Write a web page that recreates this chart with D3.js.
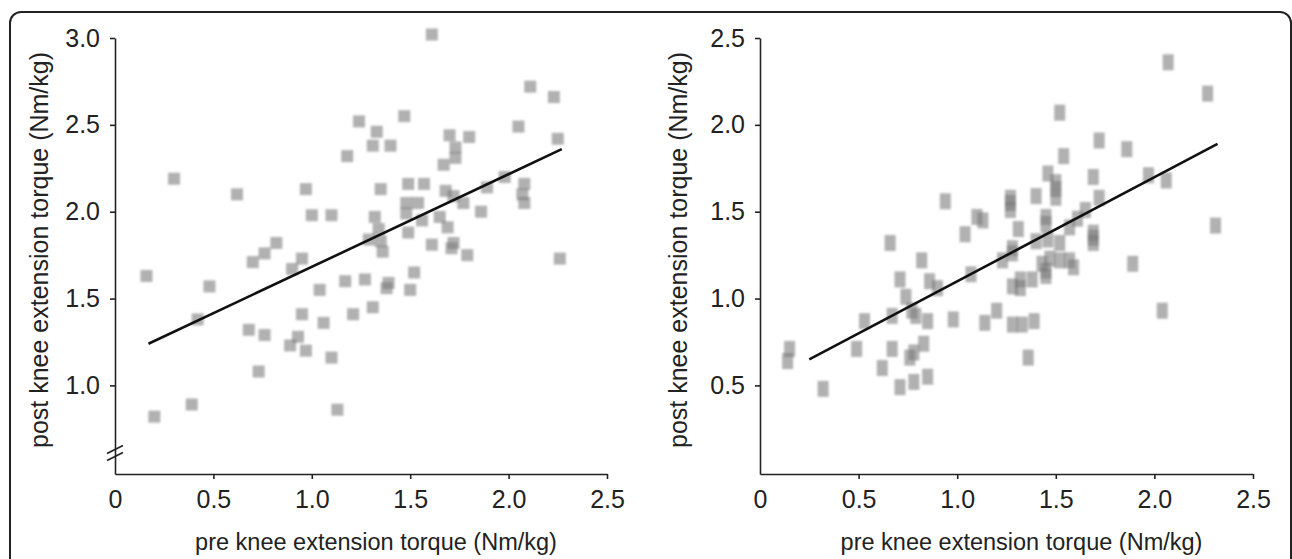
<!DOCTYPE html>
<html lang="en">
<head>
    <meta charset="UTF-8">
    <title>pre vs post knee extension torque</title>
    <script src="https://d3js.org/d3.v7.min.js"></script>
    <style>
        body { margin: 0; background: #fff; font-family: "Liberation Sans", Arial, sans-serif; }
        .axis path, .axis line { stroke: #222; stroke-width: 1.6px; }
        .axis text { font-size: 25px; fill: #222; font-family: "Liberation Sans", Arial, sans-serif; }
        .title { fill: #222; text-anchor: middle; }
        .fit { stroke: #111; stroke-width: 2.6px; fill: none; }
    </style>
</head>
<body>
<script>
    // left panel: values
    const leftPre = [0.16,0.20,0.30,0.39,0.42,0.48,0.62,0.97,1.00,1.10,1.24,1.18,0.82,0.76,0.70,0.95,0.90,1.04,1.17,
        0.95,1.06,1.21,0.68,0.76,0.93,0.89,0.97,1.10,0.73,1.13,1.61,2.11,2.23,2.05,2.25,1.47,1.33,1.31,1.40,1.70,
        1.80,1.73,1.73,1.67,1.35,1.49,1.57,1.68,1.72,1.77,1.89,1.98,2.08,2.07,2.08,1.48,1.54,1.48,1.86,1.32,1.34,
        1.56,1.65,1.69,1.49,1.29,1.35,1.36,1.61,1.72,1.71,1.79,1.52,1.27,1.39,1.38,1.50,1.31,2.26];
    const leftPost = [1.63,0.82,2.19,0.89,1.38,1.57,2.10,2.13,1.98,1.98,2.52,2.32,1.82,1.76,1.71,1.73,1.67,1.55,1.60,
        1.41,1.36,1.41,1.32,1.29,1.28,1.23,1.20,1.16,1.08,0.86,3.02,2.72,2.66,2.49,2.42,2.55,2.46,2.38,2.38,2.44,
        2.43,2.37,2.31,2.27,2.13,2.16,2.16,2.12,2.09,2.05,2.14,2.20,2.16,2.10,2.05,2.05,2.05,1.99,2.00,1.97,1.90,
        1.95,1.97,1.91,1.88,1.84,1.83,1.77,1.81,1.82,1.79,1.75,1.65,1.61,1.59,1.56,1.55,1.45,1.73];
    const leftFitX = [0.17, 2.27];
    const leftFitY = [1.24, 2.36];

    // right panel
    const rightPre = [0.94,1.10,1.13,1.04,0.66,0.82,0.71,0.86,0.90,1.07,0.74,0.77,0.79,0.53,0.67,0.85,0.98,1.14,
        0.15,0.14,0.49,0.67,0.83,0.76,0.78,0.62,0.32,0.71,0.78,0.85,2.07,2.27,1.52,1.72,1.86,1.54,1.46,1.50,1.50,
        1.50,1.69,1.72,1.97,2.06,1.40,1.27,1.27,1.27,1.45,1.45,1.65,1.61,1.57,1.31,1.69,1.69,1.69,2.31,1.40,1.46,
        1.52,1.28,1.28,1.23,1.47,1.52,1.57,1.59,1.43,1.45,1.45,1.89,1.32,1.28,1.32,1.38,1.20,1.28,1.33,1.39,2.04,1.36];
    const rightPost = [1.56,1.47,1.45,1.37,1.32,1.22,1.11,1.10,1.06,1.14,1.01,0.93,0.90,0.87,0.90,0.87,0.88,0.86,
        0.71,0.64,0.71,0.71,0.74,0.66,0.69,0.60,0.48,0.49,0.52,0.55,2.36,2.18,2.07,1.91,1.86,1.82,1.72,1.67,1.63,
        1.58,1.70,1.58,1.71,1.68,1.59,1.58,1.55,1.51,1.47,1.43,1.51,1.46,1.41,1.40,1.38,1.35,1.32,1.42,1.33,1.34,
        1.32,1.29,1.26,1.22,1.23,1.22,1.22,1.18,1.20,1.16,1.13,1.20,1.11,1.07,1.06,1.11,0.93,0.85,0.85,0.87,0.93,0.66];
    const rightFitX = [0.25, 2.32];
    const rightFitY = [0.65, 1.89];

    const xTicks = [0, 0.5, 1.0, 1.5, 2.0, 2.5];
    const leftYTicks = [1.0, 1.5, 2.0, 2.5, 3.0];
    const rightYTicks = [0.5, 1.0, 1.5, 2.0, 2.5];
    const xTitle = "pre knee extension torque (Nm/kg)";
    const yTitle = "post knee extension torque (Nm/kg)";

    const W = 1292, H = 559;
    const svg = d3.select("body").append("svg")
        .attr("width", W)
        .attr("height", H);

    const defs = svg.append("defs");
    defs.append("filter").attr("id", "soft")
        .attr("x", "-30%").attr("y", "-30%").attr("width", "160%").attr("height", "160%")
        .append("feGaussianBlur").attr("stdDeviation", 0.9);

    // outer frame
    svg.append("rect")
        .attr("x", 10).attr("y", 12)
        .attr("width", 1281).attr("height", 620)
        .attr("rx", 11)
        .attr("fill", "none")
        .attr("stroke", "#222")
        .attr("stroke-width", 2);

    const fmt = d => d === 0 ? "0" : d3.format(".1f")(d);

    function panel(opts) {
        const x = d3.scaleLinear().domain([0, 2.5]).range(opts.xRange);
        const y = d3.scaleLinear().domain(opts.yDomain).range([474, 38]);
        const g = svg.append("g");

        // points
        g.append("g").attr("filter", "url(#soft)")
            .selectAll("rect")
            .data(opts.pre.map((v, i) => [v, opts.post[i]]))
            .join("rect")
            .attr("x", d => x(d[0]) - opts.w / 2)
            .attr("y", d => y(d[1]) - opts.h / 2)
            .attr("width", opts.w)
            .attr("height", opts.h)
            .attr("fill", "#757575")
            .attr("fill-opacity", 0.57);

        // regression line
        g.append("line").attr("class", "fit")
            .attr("x1", x(opts.fitX[0])).attr("y1", y(opts.fitY[0]))
            .attr("x2", x(opts.fitX[1])).attr("y2", y(opts.fitY[1]));

        const xAxis = g.append("g").attr("class", "axis")
            .attr("transform", `translate(0,${y.range()[0]})`)
            .call(d3.axisBottom(x).tickValues(xTicks).tickFormat(fmt).tickSize(5).tickSizeOuter(0).tickPadding(8));
        xAxis.selectAll(".tick").filter(d => d === 0).select("line").remove();
        xAxis.selectAll(".tick text").attr("dy", "0.82em");

        g.append("g").attr("class", "axis")
            .attr("transform", `translate(${x(0)},0)`)
            .call(d3.axisLeft(y).tickValues(opts.yTicks).tickFormat(fmt).tickSize(5).tickSizeOuter(0).tickPadding(10));

        if (opts.brk) {
            const by = 453;
            [-3.5, 3.5].forEach(o => {
                g.append("line")
                    .attr("x1", x(0) - 8).attr("y1", by + o + 4)
                    .attr("x2", x(0) + 8).attr("y2", by + o - 4)
                    .attr("stroke", "#222").attr("stroke-width", 1.6);
            });
        }

        const cx = (opts.xRange[0] + opts.xRange[1]) / 2 + 15;
        g.append("text").attr("class", "title")
            .attr("x", cx).attr("y", 550)
            .style("font-size", "23.5px")
            .text(xTitle);
        g.append("text").attr("class", "title")
            .attr("transform", `translate(${opts.yTitleX},250) rotate(-90)`)
            .style("font-size", "25px")
            .text(yTitle);
    }

    panel({
        xRange: [115, 607], yDomain: [0.49, 3.0], yTicks: leftYTicks,
        pre: leftPre, post: leftPost, fitX: leftFitX, fitY: leftFitY,
        w: 12, h: 12, brk: true, yTitleX: 48
    });
    panel({
        xRange: [760, 1253], yDomain: [-0.01, 2.5], yTicks: rightYTicks,
        pre: rightPre, post: rightPost, fitX: rightFitX, fitY: rightFitY,
        w: 11, h: 16, brk: false, yTitleX: 687
    });
</script>
</body>
</html>
